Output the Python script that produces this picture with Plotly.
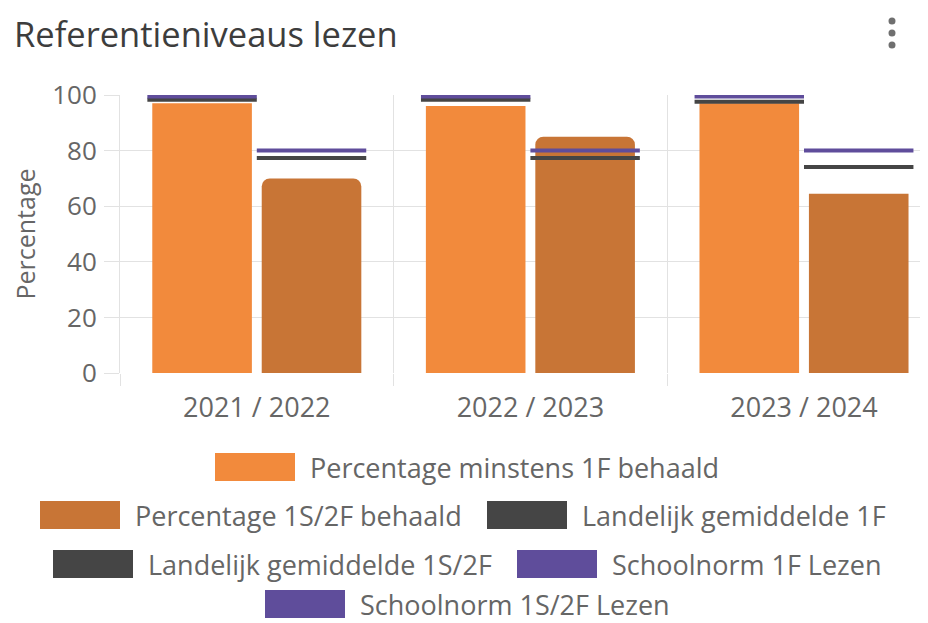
import plotly.graph_objects as go

# ---------------- data ----------------
categories = ["2021 / 2022", "2022 / 2023", "2023 / 2024"]
pct_min_1f = [97, 96, 97]            # Percentage minstens 1F behaald
pct_1s2f = [70, 85, 64.5]            # Percentage 1S/2F behaald
landelijk_1f = [98.3, 98.3, 97.6]    # Landelijk gemiddelde 1F
landelijk_1s2f = [77.3, 77.3, 74.1]  # Landelijk gemiddelde 1S/2F
schoolnorm_1f = [99.5, 99.5, 99.5]   # Schoolnorm 1F Lezen
schoolnorm_1s2f = [80, 80, 80]       # Schoolnorm 1S/2F Lezen
y_ticks = [0, 20, 40, 60, 80, 100]

series_names = [
    "Percentage minstens 1F behaald",
    "Percentage 1S/2F behaald",
    "Landelijk gemiddelde 1F",
    "Landelijk gemiddelde 1S/2F",
    "Schoolnorm 1F Lezen",
    "Schoolnorm 1S/2F Lezen",
]
series_colors = ["#F28A3C", "#C87536", "#454545", "#454545", "#5F4D9B", "#5F4D9B"]

# ---------------- layout constants ----------------
PAGE_OFF = 8                 # default body margin of the html page
W, H = 928 - PAGE_OFF, 623 - PAGE_OFF
ML, MR, MT, MB = 120 - PAGE_OFF, 0, 95 - PAGE_OFF, 250
PW, PH = W - ML - MR, H - MT - MB
CAT_PX = 273.6
LINE_T = 4 / (PH / 100.0)  # 4px thick reference lines, in data units
FONT = "Open Sans"
TXT = "#666666"
GRID = "#e2e2e2"

fig = go.Figure()

# bars
bar_specs = [(pct_min_1f, -0.382), (pct_1s2f, 0.018)]
for i, (vals, off) in enumerate(bar_specs):
    fig.add_bar(
        x=categories, y=vals, offset=off, width=0.364,
        marker=dict(color=series_colors[i], cornerradius=8, line=dict(width=0)),
        name=series_names[i], showlegend=False,
    )

# reference lines (drawn as thin bars spanning each slot)
line_specs = [(landelijk_1f, -0.4, 2), (landelijk_1s2f, 0.0, 3),
              (schoolnorm_1f, -0.4, 4), (schoolnorm_1s2f, 0.0, 5)]
for vals, off, idx in line_specs:
    fig.add_bar(
        x=categories, y=[LINE_T] * len(vals), base=[v - LINE_T / 2 for v in vals],
        offset=off, width=0.4,
        marker=dict(color=series_colors[idx], line=dict(width=0)),
        name=series_names[idx], showlegend=False,
    )


def pxx(px):
    # px measured in the window; convert to paper coords
    return (px - PAGE_OFF - ML) / PW


def pxy(py):
    return (H - MB - (py - PAGE_OFF)) / PH


# custom legend (centered rows, large swatches like the reference)
legend_rows = [[0], [1, 2], [3, 4], [5]]
legend_row_y = [467, 515, 564, 604]
legend_box_x = [[215], [40, 487], [53, 517], [265]]
shapes = []
annotations = []
for row, ry, bxs in zip(legend_rows, legend_row_y, legend_box_x):
    for idx, bx in zip(row, bxs):
        shapes.append(dict(type="rect", xref="paper", yref="paper",
                           x0=pxx(bx), x1=pxx(bx + 80), y0=pxy(ry + 14), y1=pxy(ry - 14),
                           fillcolor=series_colors[idx], line=dict(width=0), layer="above"))
        annotations.append(dict(xref="paper", yref="paper", x=pxx(bx + 93), y=pxy(ry),
                                xanchor="left", yanchor="middle", showarrow=False,
                                text=series_names[idx],
                                font=dict(family=FONT, size=27, color=TXT)))

# title
annotations.append(dict(xref="paper", yref="paper", x=pxx(12), y=pxy(33),
                        xanchor="left", yanchor="middle", showarrow=False,
                        text="Referentieniveaus lezen",
                        font=dict(family=FONT, size=34.5, color="#3d3d3d")))

# kebab menu dots
for dy in [21, 33, 45]:
    shapes.append(dict(type="circle", xref="paper", yref="paper",
                       xsizemode="pixel", ysizemode="pixel",
                       xanchor=pxx(892), yanchor=pxy(dy),
                       x0=-3.5, x1=3.5, y0=-3.5, y1=3.5,
                       fillcolor="#6f6f6f", line=dict(width=0)))

fig.update_layout(
    width=W, height=H,
    margin=dict(l=ML, r=MR, t=MT, b=MB, autoexpand=False),
    paper_bgcolor="white", plot_bgcolor="white",
    barmode="overlay",
    font=dict(family=FONT, color=TXT),
    shapes=shapes, annotations=annotations,
    showlegend=False,
)
fig.update_xaxes(
    type="category", range=[-0.5, -0.5 + PW / CAT_PX],
    tickson="boundaries", showgrid=True, gridcolor=GRID, gridwidth=1,
    ticks="outside", ticklen=12, tickcolor=GRID,
    tickfont=dict(family=FONT, size=27, color=TXT),
    ticklabelstandoff=16,
    showline=False, zeroline=False, automargin=False,
)
fig.update_yaxes(
    range=[0, 100], tickvals=y_ticks,
    showgrid=True, gridcolor=GRID, gridwidth=1,
    ticks="outside", ticklen=15, tickcolor=GRID,
    tickfont=dict(family=FONT, size=26, color=TXT),
    ticklabelstandoff=2,
    showline=True, linecolor=GRID, zeroline=False,
    title=dict(text="Percentage", font=dict(family=FONT, size=25, color=TXT), standoff=22),
    automargin=False,
)

fig.write_html("out.html")
